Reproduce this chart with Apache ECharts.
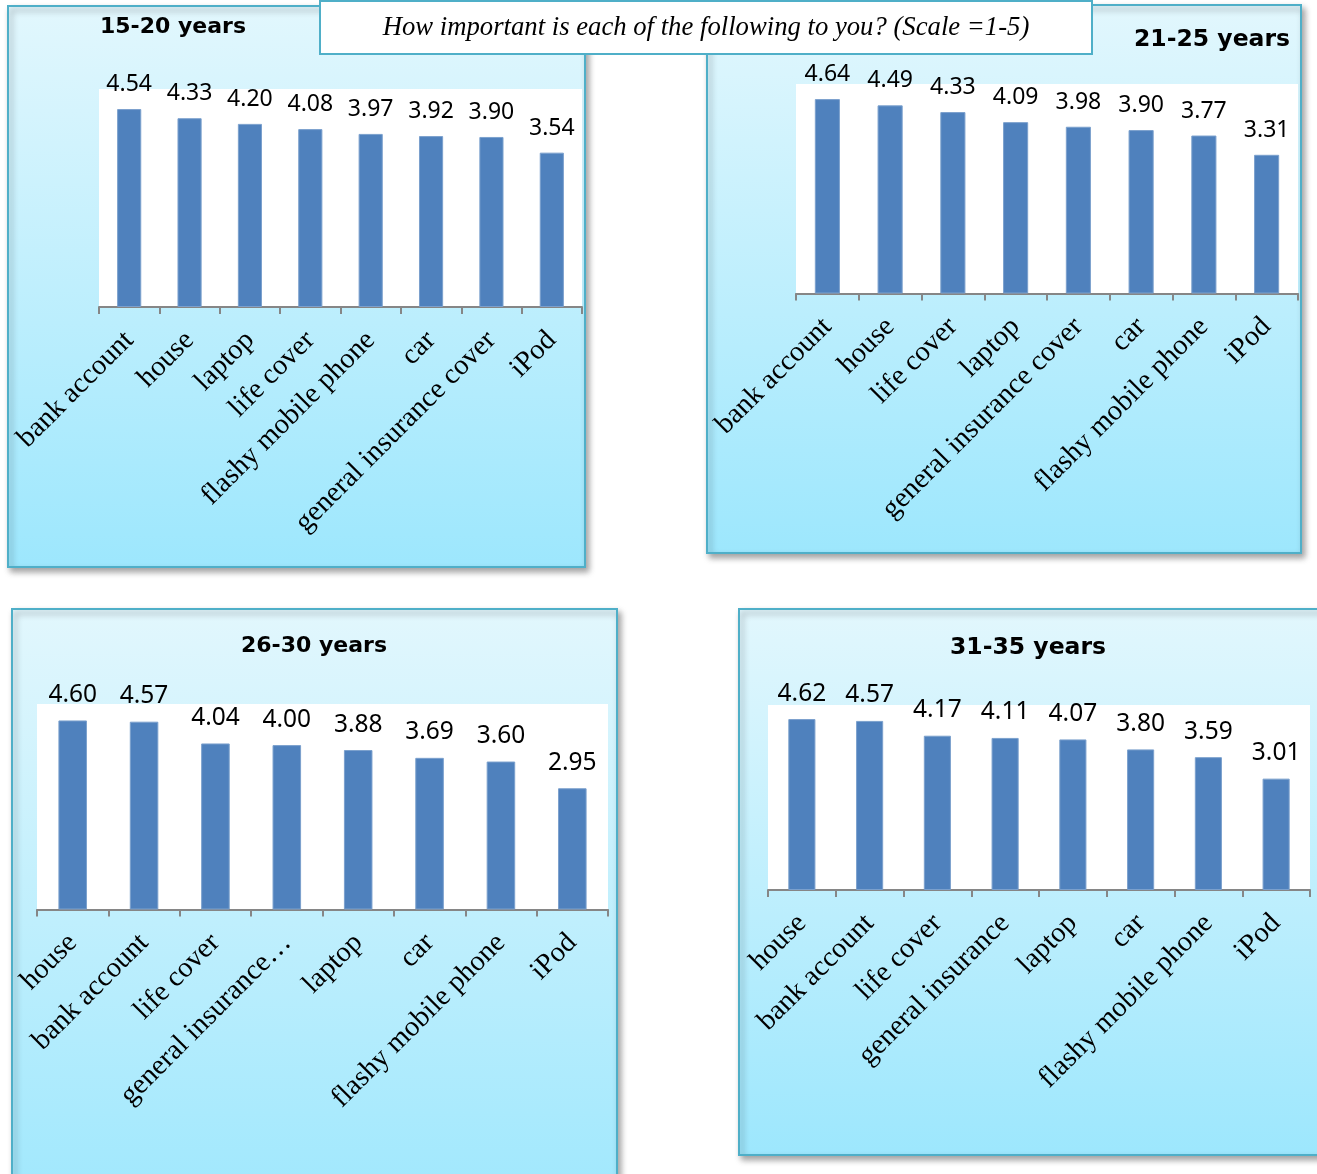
<!DOCTYPE html>
<html>
<head>
<meta charset="utf-8">
<script src="https://cdn.jsdelivr.net/npm/echarts@6/dist/echarts.min.js"></script>
<style>
  html, body { margin: 0; padding: 0; background: #ffffff; }
  #chart { width: 1317px; height: 1174px; }
</style>
</head>
<body>
<div id="chart"></div>
<script>
// Survey: "How important is each of the following to you?" mean scores by age group
const questionText = 'How important is each of the following to you? (Scale =1-5)';

const groupTitles = ['15-20 years', '21-25 years', '26-30 years', '31-35 years'];

const items15to20 = ['bank account', 'house', 'laptop', 'life cover', 'flashy mobile phone', 'car', 'general insurance cover', 'iPod'];
const scores15to20 = [4.54, 4.33, 4.20, 4.08, 3.97, 3.92, 3.90, 3.54];

const items21to25 = ['bank account', 'house', 'life cover', 'laptop', 'general insurance cover', 'car', 'flashy mobile phone', 'iPod'];
const scores21to25 = [4.64, 4.49, 4.33, 4.09, 3.98, 3.90, 3.77, 3.31];

const items26to30 = ['house', 'bank account', 'life cover', 'general insurance…', 'laptop', 'car', 'flashy mobile phone', 'iPod'];
const scores26to30 = [4.60, 4.57, 4.04, 4.00, 3.88, 3.69, 3.60, 2.95];

const items31to35 = ['house', 'bank account', 'life cover', 'general insurance', 'laptop', 'car', 'flashy mobile phone', 'iPod'];
const scores31to35 = [4.62, 4.57, 4.17, 4.11, 4.07, 3.80, 3.59, 3.01];

const scaleMin = 0;
const scaleMax = 5;

// Layout of the four panels (frame box, plot area, title anchor, font sizes)
const panels = [
  { items: items15to20, scores: scores15to20, title: groupTitles[0],
    box: { x: 8, y: 6, w: 577, h: 561 },
    grid: { left: 99, top: 89, width: 483, height: 218 },
    titlePos: [173, 27], titleSize: 22, valueSize: 23 },
  { items: items21to25, scores: scores21to25, title: groupTitles[1],
    box: { x: 707, y: 5, w: 594, h: 548 },
    grid: { left: 796, top: 84, width: 502, height: 209.5 },
    titlePos: [1212, 40], titleSize: 23.5, valueSize: 23 },
  { items: items26to30, scores: scores26to30, title: groupTitles[2],
    box: { x: 12, y: 609, w: 605, h: 620 },
    grid: { left: 37, top: 704, width: 571, height: 205.5 },
    titlePos: [314, 646], titleSize: 22, valueSize: 24.5 },
  { items: items31to35, scores: scores31to35, title: groupTitles[3],
    box: { x: 739, y: 609, w: 640, h: 546 },
    grid: { left: 768, top: 705, width: 542, height: 185 },
    titlePos: [1028, 648], titleSize: 23.5, valueSize: 24.5 }
];

const panelFill = new echarts.graphic.LinearGradient(0, 0, 0, 1, [
  { offset: 0, color: '#E2F7FD' },
  { offset: 1, color: '#9DE7FD' }
]);

const graphics = [];
panels.forEach((p) => {
  graphics.push({
    type: 'rect',
    z: -10,
    shape: { x: p.box.x, y: p.box.y, width: p.box.w, height: p.box.h },
    style: {
      fill: panelFill,
      stroke: '#4FAFC8',
      lineWidth: 2,
      shadowBlur: 6,
      shadowOffsetX: 3,
      shadowOffsetY: 4,
      shadowColor: 'rgba(0,0,0,0.35)'
    }
  });
  graphics.push({
    type: 'text',
    z: 5,
    x: p.titlePos[0],
    y: p.titlePos[1],
    style: {
      text: p.title,
      fill: '#000000',
      font: 'bold ' + p.titleSize + 'px "DejaVu Sans"',
      textAlign: 'center',
      textVerticalAlign: 'middle'
    }
  });
});

// Question banner across the top
graphics.push({
  type: 'rect',
  z: 50,
  shape: { x: 320, y: 1, width: 772, height: 53 },
  style: { fill: '#ffffff', stroke: '#4FAFC8', lineWidth: 2 }
});
graphics.push({
  type: 'text',
  z: 51,
  x: 706,
  y: 28,
  style: {
    text: questionText,
    fill: '#000000',
    font: 'italic 26.7px "Liberation Serif"',
    textAlign: 'center',
    textVerticalAlign: 'middle'
  }
});

const grids = [], xAxes = [], yAxes = [], series = [];
panels.forEach((p, i) => {
  grids.push({
    left: p.grid.left, top: p.grid.top, width: p.grid.width, height: p.grid.height,
    show: true, backgroundColor: '#ffffff', borderWidth: 0
  });
  xAxes.push({
    type: 'category',
    gridIndex: i,
    data: p.items,
    boundaryGap: true,
    axisLine: { show: true, lineStyle: { color: '#868686', width: 2 } },
    axisTick: { show: true, length: 7, lineStyle: { color: '#868686', width: 2 } },
    axisLabel: {
      interval: 0,
      rotate: 45,
      margin: 29,
      color: '#000000',
      fontFamily: '"Liberation Serif"',
      fontSize: 28.5
    },
    splitLine: { show: false }
  });
  yAxes.push({
    type: 'value',
    gridIndex: i,
    min: scaleMin,
    max: scaleMax,
    show: false,
    splitLine: { show: false }
  });
  series.push({
    type: 'bar',
    xAxisIndex: i,
    yAxisIndex: i,
    data: p.scores,
    barWidth: '40%',
    itemStyle: { color: '#4F81BD', borderColor: '#7BA0CD', borderWidth: 1 },
    label: {
      show: true,
      position: 'top',
      distance: 13,
      color: '#000000',
      fontFamily: '"Noto Sans"',
      fontSize: p.valueSize,
      formatter: (d) => d.value.toFixed(2)
    },
    silent: true
  });
});

const chart = echarts.init(document.getElementById('chart'), null, { renderer: 'canvas' });
chart.setOption({
  animation: false,
  backgroundColor: '#ffffff',
  graphic: graphics,
  grid: grids,
  xAxis: xAxes,
  yAxis: yAxes,
  series: series
});
</script>
</body>
</html>
